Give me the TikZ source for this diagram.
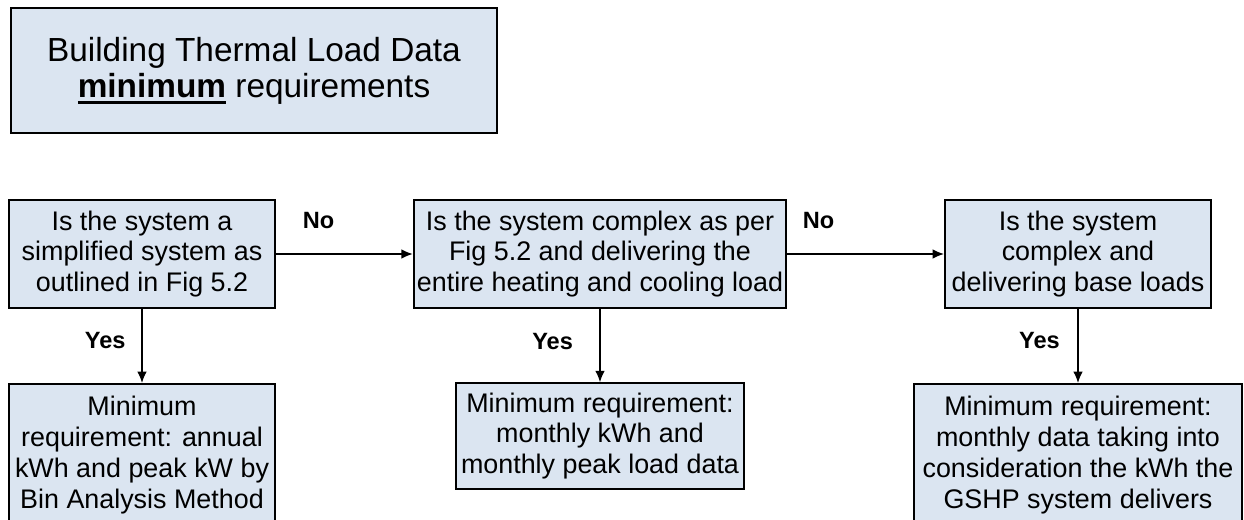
\documentclass[tikz,border=0pt]{standalone}
\usepackage{fontspec}
\setmainfont{Liberation Sans}
\usetikzlibrary{positioning,arrows.meta}
\definecolor{boxblue}{HTML}{DBE5F1}
\newcommand{\thickul}[1]{\setbox0\hbox{#1}\rlap{\rule[-3.8pt]{\wd0}{1.6pt}}\box0\relax}

\begin{document}
\begin{tikzpicture}[x=0.02cm, y=-0.02cm,
  box/.style={draw, line width=1.1pt, fill=boxblue, align=center, inner sep=1pt,
    font=\fontsize{15.3}{17.6}\selectfont},
  lbl/.style={font=\fontsize{13.4}{15}\selectfont\bfseries, inner sep=0pt},
  arr/.style={line width=0.85pt, -{Latex[length=6.5pt,width=5.5pt]}}]

\useasboundingbox (0,0) rectangle (1244,520);
\clip (0,0) rectangle (1244,520);

% title
\node[box, minimum width=276.6pt, minimum height=70.9pt,
  font=\fontsize{19}{20.5}\selectfont] (title) at (254,70.5)
  {Building Thermal Load Data\\ \thickul{\textbf{minimum}} requirements};

% questions
\node[box, minimum width=151.9pt, minimum height=61.2pt] (q1) at (142,254)
  {Is the system a\\ simplified system as\\ outlined in Fig 5.2};
\node[box, minimum width=212pt, minimum height=61.2pt] (q2) at (600,254)
  {Is the system complex as per\\ Fig 5.2 and delivering the\\ entire heating and cooling load};
\node[box, minimum width=151.4pt, minimum height=61.2pt] (q3) at (1078,254)
  {Is the system\\ complex and\\ delivering base loads};

% requirements
\node[box, anchor=north, minimum width=151.9pt, minimum height=80.5pt] (r1) at (142,383)
  {Minimum\\ requirement: annual\\ kWh and peak kW by\\ Bin Analysis Method};
\node[box, minimum width=163.8pt, minimum height=60.1pt] (r2) at (600,436)
  {Minimum requirement:\\ monthly kWh and\\ monthly peak load data};
\node[box, anchor=north, minimum width=186.5pt, minimum height=80.5pt] (r3) at (1078,383)
  {Minimum requirement:\\ monthly data taking into\\ consideration the kWh the\\ GSHP system delivers};

\draw[arr] (q1) -- node[lbl, pos=0.31, above=14pt] {No} (q2);
\draw[arr] (q2) -- node[lbl, pos=0.2, above=14pt] {No} (q3);

\draw[arr] (q1) -- node[lbl, pos=0.43, left=9pt] {Yes} (r1);
\draw[arr] (q2) -- node[lbl, pos=0.45, left=15pt] {Yes} (r2);
\draw[arr] (q3) -- node[lbl, pos=0.43, left=10pt] {Yes} (r3);

\end{tikzpicture}
\end{document}
